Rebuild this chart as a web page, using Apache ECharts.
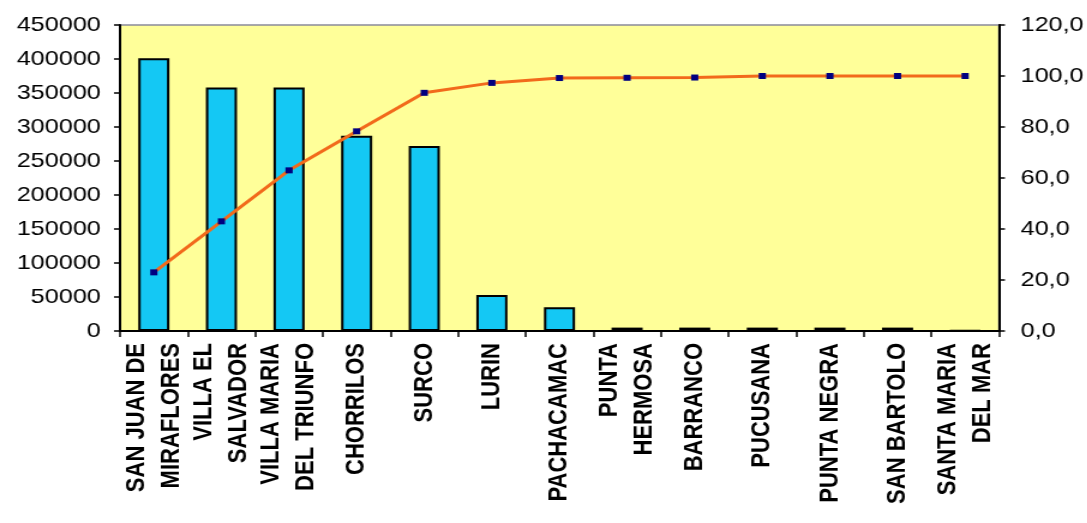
<!DOCTYPE html>
<html>
<head>
<meta charset="utf-8">
<script src="https://cdn.jsdelivr.net/npm/echarts@6/dist/echarts.min.js"></script>
<style>
  html, body { margin: 0; padding: 0; background: #ffffff; overflow: hidden; }
  #wrap { width: 1087px; height: 523px; overflow: hidden; }
  /* chart is laid out narrower and widened horizontally */
  #chart { width: 906px; height: 523px; transform: scaleX(1.2); transform-origin: 0 0; }
</style>
</head>
<body>
<div id="wrap"><div id="chart"></div></div>
<script>
// Districts (Lima Sur), population and cumulative percentage
const districts = [
  'SAN JUAN DE\nMIRAFLORES', 'VILLA EL\nSALVADOR', 'VILLA MARIA\nDEL TRIUNFO',
  'CHORRILOS', 'SURCO', 'LURIN', 'PACHACAMAC', 'PUNTA\nHERMOSA', 'BARRANCO',
  'PUCUSANA', 'PUNTA NEGRA', 'SAN BARTOLO', 'SANTA MARIA\nDEL MAR'
];
const population = [401000, 358000, 358000, 287000, 272000, 53000, 35000, 5000, 5000, 5000, 5000, 5000, 800];
const cumulativePct = [23.0, 43.0, 63.0, 78.3, 93.4, 97.3, 99.2, 99.3, 99.4, 100.0, 100.0, 100.0, 100.0];

const FONT = "'Liberation Sans', Arial, sans-serif";
const chart = echarts.init(document.getElementById('chart'), null, { renderer: 'canvas' });

chart.setOption({
  animation: false,
  backgroundColor: '#ffffff',
  grid: {
    left: 100, right: 67, top: 25, bottom: 192,
    show: true, backgroundColor: '#FFFF99', borderColor: '#8a8a9a', borderWidth: 1.5
  },
  xAxis: {
    type: 'category',
    data: districts,
    axisLine: { lineStyle: { color: '#000', width: 2 } },
    axisTick: { show: true, length: 6, lineStyle: { color: '#000', width: 1.5 } },
    axisLabel: {
      rotate: 90, interval: 0, margin: 12,
      fontFamily: FONT, fontSize: 22, fontWeight: 'bold', lineHeight: 29, color: '#000'
    }
  },
  yAxis: [
    {
      type: 'value', min: 0, max: 450000, interval: 50000,
      axisLine: { show: true, lineStyle: { color: '#000', width: 2 } },
      axisTick: { show: true, length: 5, lineStyle: { color: '#000', width: 1.5 } },
      splitLine: { show: false },
      axisLabel: {
        margin: 16, fontFamily: FONT, fontSize: 21, color: '#000',
        formatter: v => String(v)
      }
    },
    {
      type: 'value', min: 0, max: 120, interval: 20, position: 'right',
      axisLine: { show: true, lineStyle: { color: '#000', width: 2 } },
      axisTick: { show: true, length: 5, lineStyle: { color: '#000', width: 1.5 } },
      splitLine: { show: false },
      axisLabel: {
        margin: 18, fontFamily: FONT, fontSize: 21, color: '#000',
        formatter: v => v.toFixed(1).replace('.', ',')
      }
    }
  ],
  series: [
    {
      type: 'bar',
      data: population,
      barWidth: '46%',
      itemStyle: { color: '#14C8F4', borderColor: '#000', borderWidth: 2 }
    },
    {
      type: 'line',
      yAxisIndex: 1,
      data: cumulativePct,
      symbol: 'rect',
      symbolSize: 6,
      lineStyle: { color: '#F26A1B', width: 3 },
      itemStyle: { color: '#000080', borderWidth: 0 },
      z: 5
    }
  ]
});
</script>
</body>
</html>
